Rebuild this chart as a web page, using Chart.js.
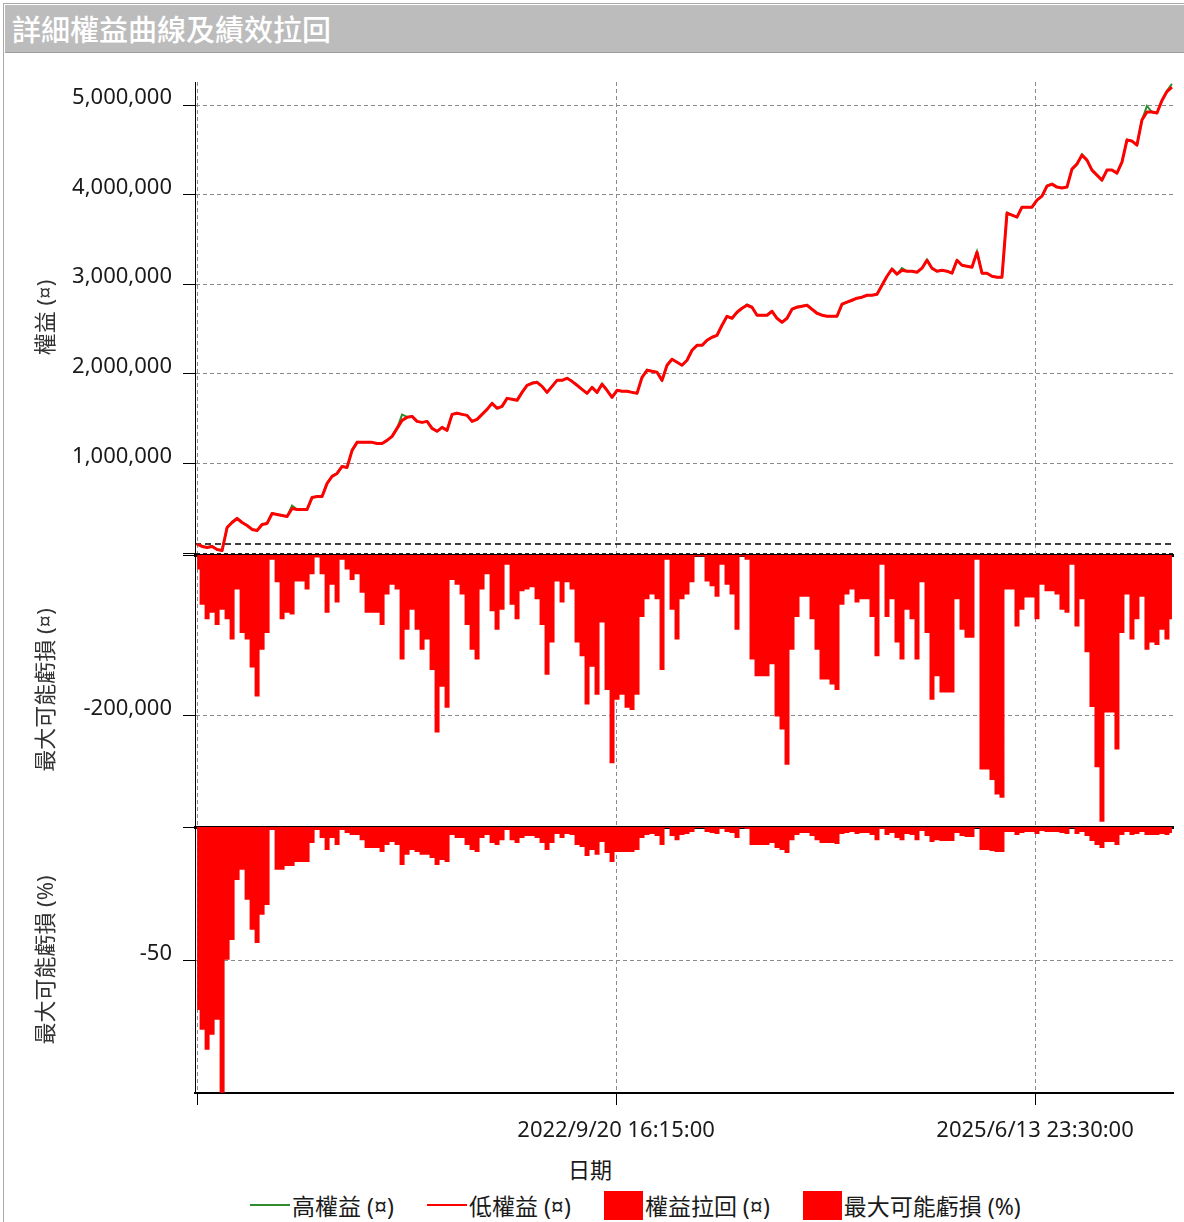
<!DOCTYPE html>
<html>
<head>
<meta charset="utf-8">
<title>詳細權益曲線及績效拉回</title>
<script src="https://cdn.jsdelivr.net/npm/chart.js@4.4.1/dist/chart.umd.min.js"></script>
<style>
  html, body { margin: 0; padding: 0; background: #fff; }
  body {
    width: 1184px; height: 1222px; position: relative; overflow: hidden;
    font-family: "Noto Sans", "Noto Sans CJK TC", sans-serif;
  }
  #frame {
    position: absolute; left: 3px; top: 3px; width: 1181px; height: 1219px;
    border-left: 1px solid #a9a9a9; border-top: 1px solid #a9a9a9;
  }
  #titlebar {
    position: absolute; left: 5px; top: 5px; width: 1179px; height: 48px;
    box-sizing: border-box; padding-left: 7px;
    background: #bcbcbc; border-bottom: 1px solid #9d9d9d;
    color: #fff; font: 500 29px "Noto Sans CJK TC", sans-serif; line-height: 47px;
  }
  canvas { position: absolute; left: 0; }
  #c1 { top: 70px; }
  #c2 { top: 545px; }
  #c3 { top: 815px; }
  #xtitle {
    position: absolute; left: 540px; width: 100px; top: 1154px;
    text-align: center; font-size: 22px; line-height: 30px; color: #1a1a1a;
  }
  #legend {
    position: absolute; left: 250px; top: 1190px; height: 30px;
    display: flex; align-items: center; gap: 33px;
    font-size: 23px; color: #1a1a1a; white-space: nowrap;
  }
  .item { display: flex; align-items: center; gap: 2px; }
  .mark-line { width: 40px; height: 2px; }
  .mark-box { width: 39px; height: 29px; }
</style>
</head>
<body>
<div id="frame"></div>
<div id="titlebar">詳細權益曲線及績效拉回</div>
<canvas id="c1" width="1184" height="486"></canvas>
<canvas id="c2" width="1184" height="285"></canvas>
<canvas id="c3" width="1184" height="335"></canvas>
<div id="xtitle">日期</div>
<div id="legend"></div>
<script>
// x axis: days since the first bar
const xMin = -5;
const xMax = 2323;
const xStepDays = 11.9;
const xTickDays = [0, 997.3, 1994.6];
const xTickLabels = ['', '2022/9/20 16:15:00', '2025/6/13 23:30:00'];

const equityTicks = [0, 1000000, 2000000, 3000000, 4000000, 5000000];
const drawdownTicks = [-200000, 0];
const percentTicks = [-50, 0];

const initialCapital = 100000;

const lowEquity = [
  100000, 73000, 61000, 73000, 39000, 28000, 285000, 341000, 385000, 341000,
  307000, 263000, 251000, 318000, 330000, 441000, 430000, 419000, 408000, 497000,
  486000, 486000, 486000, 620000, 631000, 631000, 777000, 855000, 888000, 966000,
  955000, 1145000, 1235000, 1235000, 1235000, 1235000, 1223000, 1223000, 1257000, 1302000,
  1391000, 1480000, 1514000, 1525000, 1469000, 1458000, 1469000, 1391000, 1358000, 1402000,
  1369000, 1547000, 1559000, 1547000, 1536000, 1469000, 1492000, 1547000, 1603000, 1670000,
  1615000, 1637000, 1726000, 1715000, 1704000, 1793000, 1872000, 1894000, 1905000, 1860000,
  1793000, 1860000, 1927000, 1927000, 1950000, 1916000, 1872000, 1827000, 1782000, 1849000,
  1793000, 1883000, 1816000, 1738000, 1816000, 1805000, 1805000, 1793000, 1782000, 1961000,
  2039000, 2028000, 2017000, 1927000, 2095000, 2162000, 2129000, 2095000, 2151000, 2263000,
  2318000, 2318000, 2374000, 2408000, 2430000, 2542000, 2642000, 2620000, 2687000, 2732000,
  2765000, 2743000, 2654000, 2654000, 2654000, 2698000, 2620000, 2575000, 2620000, 2721000,
  2743000, 2754000, 2765000, 2721000, 2676000, 2654000, 2642000, 2642000, 2642000, 2777000,
  2799000, 2821000, 2844000, 2855000, 2877000, 2877000, 2888000, 2989000, 3089000, 3168000,
  3112000, 3156000, 3145000, 3145000, 3134000, 3179000, 3268000, 3179000, 3145000, 3156000,
  3145000, 3123000, 3268000, 3212000, 3201000, 3190000, 3358000, 3123000, 3123000, 3089000,
  3078000, 3078000, 3793000, 3771000, 3749000, 3860000, 3860000, 3860000, 3939000, 3983000,
  4095000, 4117000, 4084000, 4073000, 4084000, 4285000, 4341000, 4441000, 4385000, 4274000,
  4218000, 4162000, 4274000, 4274000, 4240000, 4363000, 4609000, 4598000, 4553000, 4832000,
  4922000, 4922000, 4911000, 5050000, 5150000, 5200000
];

const highEquity = [
  100000, 80000, 61000, 80000, 39000, 28000, 285000, 350000, 390000, 341000,
  307000, 263000, 251000, 318000, 335000, 445000, 430000, 419000, 408000, 530000,
  486000, 486000, 486000, 620000, 631000, 631000, 777000, 860000, 888000, 966000,
  955000, 1145000, 1240000, 1235000, 1235000, 1235000, 1223000, 1223000, 1257000, 1302000,
  1391000, 1545000, 1520000, 1525000, 1469000, 1458000, 1469000, 1391000, 1358000, 1402000,
  1369000, 1547000, 1565000, 1547000, 1536000, 1469000, 1492000, 1547000, 1603000, 1675000,
  1615000, 1637000, 1726000, 1715000, 1704000, 1793000, 1872000, 1900000, 1910000, 1860000,
  1793000, 1860000, 1927000, 1927000, 1955000, 1916000, 1872000, 1827000, 1782000, 1849000,
  1793000, 1890000, 1816000, 1738000, 1816000, 1805000, 1805000, 1793000, 1782000, 1961000,
  2045000, 2028000, 2017000, 1927000, 2095000, 2165000, 2129000, 2095000, 2151000, 2263000,
  2318000, 2318000, 2374000, 2408000, 2430000, 2542000, 2642000, 2620000, 2687000, 2732000,
  2775000, 2743000, 2654000, 2654000, 2654000, 2698000, 2620000, 2575000, 2620000, 2721000,
  2750000, 2754000, 2770000, 2721000, 2676000, 2654000, 2642000, 2642000, 2642000, 2777000,
  2799000, 2821000, 2844000, 2855000, 2877000, 2877000, 2888000, 2989000, 3089000, 3175000,
  3112000, 3180000, 3145000, 3145000, 3134000, 3179000, 3275000, 3179000, 3145000, 3156000,
  3145000, 3123000, 3268000, 3212000, 3201000, 3190000, 3365000, 3123000, 3123000, 3089000,
  3078000, 3078000, 3800000, 3771000, 3749000, 3860000, 3860000, 3860000, 3939000, 3983000,
  4100000, 4120000, 4084000, 4073000, 4084000, 4285000, 4345000, 4450000, 4385000, 4274000,
  4218000, 4162000, 4274000, 4274000, 4240000, 4363000, 4615000, 4598000, 4553000, 4832000,
  4990000, 4922000, 4911000, 5050000, 5160000, 5235000
];

const drawdownAmount = [
  -18000, -62000, -80000, -72000, -87000, -68000, -80000, -105000, -43000, -97000,
  -105000, -140000, -176000, -118000, -97000, -6000, -34000, -80000, -72000, -74000,
  -33000, -33000, -43000, -24000, -3000, -24000, -72000, -37000, -59000, -6000,
  -18000, -31000, -24000, -47000, -72000, -72000, -72000, -87000, -49000, -37000,
  -43000, -130000, -93000, -68000, -93000, -118000, -105000, -143000, -221000, -164000,
  -190000, -31000, -37000, -49000, -87000, -118000, -130000, -43000, -24000, -70000,
  -93000, -68000, -12000, -62000, -80000, -45000, -43000, -40000, -55000, -87000,
  -149000, -109000, -33000, -59000, -34000, -43000, -109000, -126000, -186000, -139000,
  -174000, -84000, -168000, -259000, -180000, -174000, -190000, -193000, -174000, -77000,
  -55000, -49000, -55000, -143000, -6000, -68000, -105000, -55000, -49000, -34000,
  -2000, -2000, -33000, -39000, -52000, -12000, -37000, -49000, -93000, -2000,
  -6000, -130000, -151000, -151000, -151000, -136000, -201000, -217000, -261000, -118000,
  -77000, -52000, -52000, -80000, -118000, -155000, -155000, -161000, -168000, -62000,
  -49000, -43000, -59000, -55000, -55000, -77000, -126000, -12000, -77000, -55000,
  -109000, -130000, -68000, -80000, -130000, -34000, -97000, -180000, -151000, -171000,
  -171000, -171000, -55000, -93000, -103000, -103000, -6000, -267000, -267000, -280000,
  -298000, -302000, -43000, -43000, -89000, -68000, -53000, -53000, -80000, -37000,
  -45000, -45000, -49000, -68000, -72000, -12000, -89000, -55000, -121000, -189000,
  -264000, -332000, -196000, -196000, -242000, -97000, -49000, -105000, -80000, -52000,
  -118000, -109000, -112000, -93000, -105000, -80000
];

const drawdownPercent = [
  -68.3, -75.7, -83.2, -77.6, -72.0, -99.2, -49.6, -42.2, -19.8, -16.0,
  -27.2, -38.4, -43.3, -32.8, -29.1, -1.1, -16.0, -16.0, -14.6, -14.6,
  -13.1, -13.1, -13.1, -6.0, -1.1, -4.1, -8.6, -4.1, -6.7, -1.1,
  -2.2, -3.0, -3.0, -4.9, -7.8, -7.8, -7.8, -9.3, -6.7, -5.6,
  -6.7, -14.2, -10.4, -8.6, -9.3, -10.4, -10.4, -11.6, -14.2, -12.3,
  -13.1, -3.0, -4.1, -4.1, -6.7, -8.6, -9.3, -4.1, -3.0, -6.0,
  -6.7, -4.9, -1.1, -4.9, -6.0, -4.1, -3.4, -3.4, -4.1, -6.0,
  -8.6, -6.0, -2.6, -4.1, -2.6, -3.0, -6.7, -7.5, -10.8, -8.6,
  -10.4, -5.6, -9.7, -13.1, -9.3, -9.3, -9.3, -9.3, -8.6, -4.1,
  -3.0, -2.6, -3.4, -6.7, -0.4, -3.4, -4.9, -3.0, -2.6, -1.9,
  -0.4, -0.4, -1.9, -2.2, -2.6, -0.7, -1.9, -2.2, -4.1, -0.4,
  -0.7, -6.7, -6.7, -6.7, -6.7, -6.0, -7.8, -8.6, -9.7, -4.9,
  -3.0, -2.2, -2.2, -3.4, -4.9, -6.0, -6.0, -6.0, -6.3, -2.6,
  -2.2, -1.9, -2.6, -2.2, -2.2, -3.0, -4.9, -0.7, -3.0, -2.2,
  -4.1, -4.9, -2.6, -3.0, -4.9, -1.5, -3.4, -5.6, -4.9, -5.2,
  -5.2, -5.2, -2.2, -3.4, -3.7, -3.7, -0.4, -8.6, -8.6, -9.0,
  -9.3, -9.3, -1.9, -1.9, -3.0, -2.2, -1.9, -1.9, -2.6, -1.5,
  -1.9, -1.9, -1.9, -2.2, -2.6, -0.4, -2.6, -1.9, -3.4, -5.2,
  -6.7, -7.8, -5.6, -5.6, -6.7, -3.0, -1.9, -3.0, -2.6, -1.9,
  -3.0, -3.0, -3.0, -2.6, -3.0, -2.2
];

const xDays = lowEquity.map((_, i) => i * xStepDays);

const GREEN = '#2e8b2e';
const RED = '#ff0000';
const GRID = '#8a8a8a';

Chart.defaults.font.family = '"Noto Sans", "Noto Sans CJK TC", sans-serif';
Chart.defaults.font.size = 22;
Chart.defaults.color = '#1a1a1a';

function toPoints(values) {
  return values.map((v, i) => ({ x: xDays[i], y: v }));
}

function fmtNumber(v) {
  return v === 0 ? '' : v.toLocaleString('en-US');
}

// no extra room for half labels: plot edges sit where the picture has them
function noEdgePadding(s) {
  s.paddingTop = 0;
  s.paddingBottom = 0;
  s.paddingLeft = 0;
  s.paddingRight = 0;
}

function yAxis(title, min, max, ticks, zeroColor) {
  return {
    type: 'linear',
    position: 'left',
    min: min,
    max: max,
    afterBuildTicks: s => { s.ticks = ticks.map(v => ({ value: v })); },
    afterFit: s => { s.width = 195; noEdgePadding(s); },
    ticks: {
      padding: 11,
      labelOffset: -7,
      color: '#1a1a1a',
      callback: v => fmtNumber(v)
    },
    grid: {
      color: ctx => (ctx.tick && ctx.tick.value === 0 ? zeroColor : GRID),
      lineWidth: 1,
      tickLength: 12,
      tickColor: '#000',
      tickWidth: 1
    },
    border: { display: true, color: '#000', width: 1, dash: [4, 3] },
    title: {
      display: true,
      text: title,
      color: '#333',
      font: { size: 22 },
      padding: { top: 34, bottom: 0 }
    }
  };
}

function xAxis(showLabels) {
  return {
    type: 'linear',
    position: 'bottom',
    min: xMin,
    max: xMax,
    afterBuildTicks: s => { s.ticks = xTickDays.map(v => ({ value: v })); },
    afterFit: s => { s.height = showLabels ? 57 : 0; noEdgePadding(s); },
    ticks: {
      display: showLabels,
      padding: 13,
      maxRotation: 0,
      autoSkip: false,
      color: '#1a1a1a',
      callback: (v, i) => xTickLabels[i]
    },
    grid: {
      color: GRID,
      lineWidth: 1,
      drawTicks: showLabels,
      tickLength: 12,
      tickColor: '#000',
      tickWidth: 1
    },
    border: { display: showLabels, color: '#000', width: 2, dash: [4, 3] }
  };
}

// thick zero line along the top of the lower panels, drawn above the fill
const topZeroAxis = {
  type: 'linear',
  position: 'top',
  z: 1,
  afterFit: s => { s.height = 0; noEdgePadding(s); },
  ticks: { display: false },
  grid: { display: false, drawTicks: false },
  border: { display: true, color: '#000', width: 3 }
};

const equityChart = new Chart(document.getElementById('c1'), {
  type: 'line',
  data: {
    datasets: [
      {
        label: '低權益 (¤)',
        data: toPoints(lowEquity),
        borderColor: RED,
        borderWidth: 3,
        pointRadius: 0,
        borderJoinStyle: 'round',
        order: 0
      },
      {
        label: '高權益 (¤)',
        data: toPoints(highEquity),
        borderColor: GREEN,
        borderWidth: 2,
        pointRadius: 0,
        order: 1
      },
      {
        label: 'initial',
        data: [{ x: xMin, y: initialCapital }, { x: xMax, y: initialCapital }],
        borderColor: '#000',
        borderWidth: 1.5,
        borderDash: [6, 4],
        pointRadius: 0,
        order: 2
      }
    ]
  },
  options: {
    responsive: false,
    animation: false,
    layout: { padding: { top: 12, right: 11, bottom: 3, left: 0 } },
    plugins: { legend: { display: false }, tooltip: { enabled: false } },
    scales: {
      x: xAxis(false),
      y: yAxis('權益 (¤)', 0, 5257000, equityTicks, '#222')
    }
  }
});

const amountChart = new Chart(document.getElementById('c2'), {
  type: 'line',
  data: {
    datasets: [{
      label: '權益拉回 (¤)',
      data: toPoints(drawdownAmount),
      borderWidth: 0,
      backgroundColor: RED,
      fill: 'origin',
      stepped: 'middle',
      pointRadius: 0
    }]
  },
  options: {
    responsive: false,
    animation: false,
    layout: { padding: { top: 10, right: 11, bottom: 5, left: 0 } },
    plugins: { legend: { display: false }, tooltip: { enabled: false } },
    scales: {
      x: xAxis(false),
      xTop: topZeroAxis,
      y: yAxis('最大可能虧損 (¤)', -336000, 0, drawdownTicks, GRID)
    }
  }
});

const percentChart = new Chart(document.getElementById('c3'), {
  type: 'line',
  data: {
    datasets: [{
      label: '最大可能虧損 (%)',
      data: toPoints(drawdownPercent),
      borderWidth: 0,
      backgroundColor: RED,
      fill: 'origin',
      stepped: 'middle',
      pointRadius: 0
    }]
  },
  options: {
    responsive: false,
    animation: false,
    layout: { padding: { top: 12, right: 11, bottom: 0, left: 0 } },
    plugins: { legend: { display: false }, tooltip: { enabled: false } },
    scales: {
      x: xAxis(true),
      xTop: topZeroAxis,
      y: yAxis('最大可能虧損 (%)', -99.3, 0, percentTicks, GRID)
    }
  }
});

// legend across the bottom, built from the datasets
const legendItems = [
  { label: equityChart.data.datasets[1].label, color: GREEN, kind: 'line' },
  { label: equityChart.data.datasets[0].label, color: RED, kind: 'line' },
  { label: amountChart.data.datasets[0].label, color: RED, kind: 'box' },
  { label: percentChart.data.datasets[0].label, color: RED, kind: 'box' }
];

const legendEl = document.getElementById('legend');
legendItems.forEach(item => {
  const el = document.createElement('div');
  el.className = 'item';
  const mark = document.createElement('span');
  mark.className = item.kind === 'line' ? 'mark-line' : 'mark-box';
  mark.style.background = item.color;
  const text = document.createElement('span');
  text.textContent = item.label;
  el.appendChild(mark);
  el.appendChild(text);
  legendEl.appendChild(el);
});
</script>
</body>
</html>
